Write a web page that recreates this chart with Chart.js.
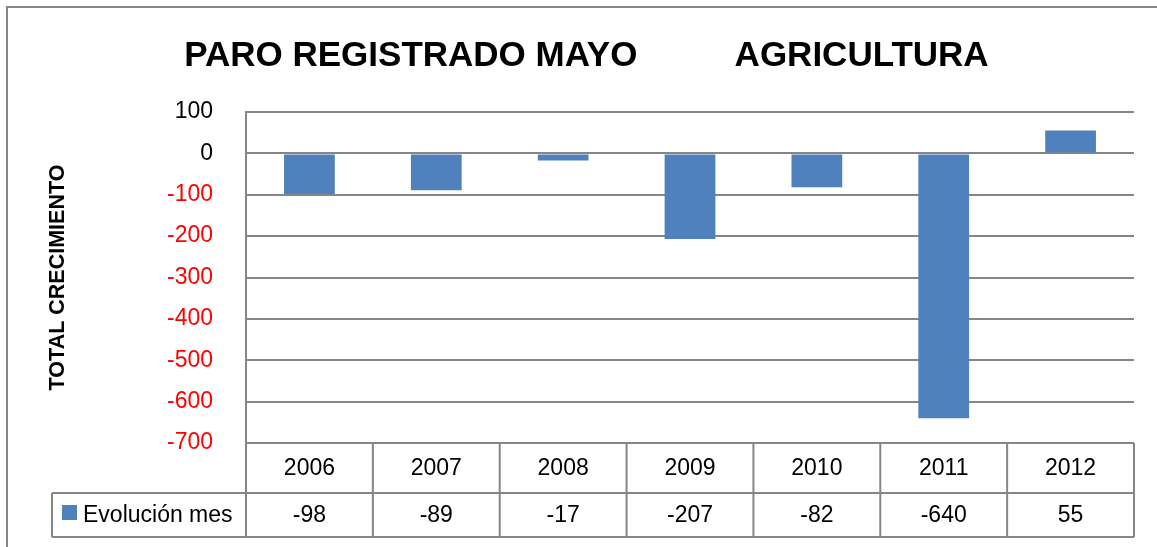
<!DOCTYPE html>
<html>
<head>
<meta charset="utf-8">
<script src="https://cdn.jsdelivr.net/npm/chart.js@4"></script>
<style>
  html, body { margin: 0; padding: 0; background: #fff; }
  #wrap { width: 1157px; height: 547px; position: relative; }
</style>
</head>
<body>
<div id="wrap"><canvas id="barChart"></canvas></div>
<script>
const years = ['2006', '2007', '2008', '2009', '2010', '2011', '2012'];
const evolucion = [-98, -89, -17, -207, -82, -640, 55];
const seriesName = 'Evolución mes';
const yMin = -700, yMax = 100, yStep = 100;

const FONT = "'Liberation Sans', Arial, sans-serif";
const GRID = '#868686';
const BAR = '#4F81BD';

// marco exterior (solo arriba e izquierda visibles)
const frame = {
    id: 'frame',
    beforeDraw(chart) {
        const c = chart.ctx;
        c.save();
        c.strokeStyle = GRID;
        c.lineWidth = 2;
        c.beginPath();
        c.moveTo(7, 547);
        c.lineTo(7, 7);
        c.lineTo(1157, 7);
        c.stroke();
        c.restore();
    }
};

// tabla de datos bajo el eje
const dataTable = {
    id: 'dataTable',
    afterDraw(chart) {
        const c = chart.ctx;
        const x = chart.scales.x;
        const area = chart.chartArea;
        const top = area.bottom, mid = 493, bot = 537, legLeft = 52;
        const w = (area.right - area.left) / years.length;
        c.save();
        c.strokeStyle = GRID;
        c.lineWidth = 2;
        c.beginPath();
        // horizontales
        c.moveTo(area.left, top); c.lineTo(area.right, top);
        c.moveTo(legLeft, mid); c.lineTo(area.right, mid);
        c.moveTo(legLeft, bot); c.lineTo(area.right, bot);
        // verticales
        c.moveTo(legLeft, mid); c.lineTo(legLeft, bot);
        for (let i = 0; i <= years.length; i++) {
            const px = area.left + i * w;
            c.moveTo(px, top); c.lineTo(px, bot);
        }
        c.stroke();

        c.fillStyle = '#000';
        c.font = '23px ' + FONT;
        c.textAlign = 'center';
        c.textBaseline = 'middle';
        years.forEach((yr, i) => {
            const cx = x.getPixelForValue(i);
            c.fillText(yr, cx, (top + mid) / 2 + 1);
            c.fillText(String(evolucion[i]), cx, (mid + bot) / 2 + 1);
        });
        // leyenda
        c.fillStyle = BAR;
        c.fillRect(62, 505, 15, 15);
        c.fillStyle = '#000';
        c.textAlign = 'left';
        c.fillText(seriesName, 83, (mid + bot) / 2 + 1);
        c.restore();
    }
};

const ctx = document.getElementById('barChart');
new Chart(ctx, {
    type: 'bar',
    data: {
        labels: years,
        datasets: [{
            label: seriesName,
            data: evolucion,
            backgroundColor: BAR,
            borderWidth: 0,
            barPercentage: 0.4,
            categoryPercentage: 1.0
        }]
    },
    options: {
        responsive: true,
        maintainAspectRatio: false,
        animation: false,
        layout: { padding: { left: 0, right: 23, top: 0, bottom: 104 } },
        plugins: {
            legend: { display: false },
            tooltip: { enabled: false },
            title: {
                display: true,
                text: '    PARO REGISTRADO MAYO          AGRICULTURA',
                color: '#000',
                font: { family: FONT, size: 35, weight: 'bold', lineHeight: 1.2 },
                padding: { top: 35, bottom: 35 }
            }
        },
        scales: {
            x: { display: false },
            y: {
                min: yMin,
                max: yMax,
                afterFit(scale) { scale.width = 246; },
                ticks: {
                    stepSize: yStep,
                    padding: 33,
                    font: { family: FONT, size: 23 },
                    color: (c) => c.tick && c.tick.value < 0 ? '#FF0000' : '#000'
                },
                grid: { color: GRID, lineWidth: 2, drawTicks: false },
                border: { color: GRID, width: 2 },
                title: {
                    display: true,
                    text: 'TOTAL CRECIMIENTO',
                    color: '#000',
                    font: { family: FONT, size: 21.5, weight: 'bold', lineHeight: 1.2 },
                    padding: { top: 45, bottom: 0 }
                }
            }
        }
    },
    plugins: [frame, dataTable]
});
</script>
</body>
</html>
